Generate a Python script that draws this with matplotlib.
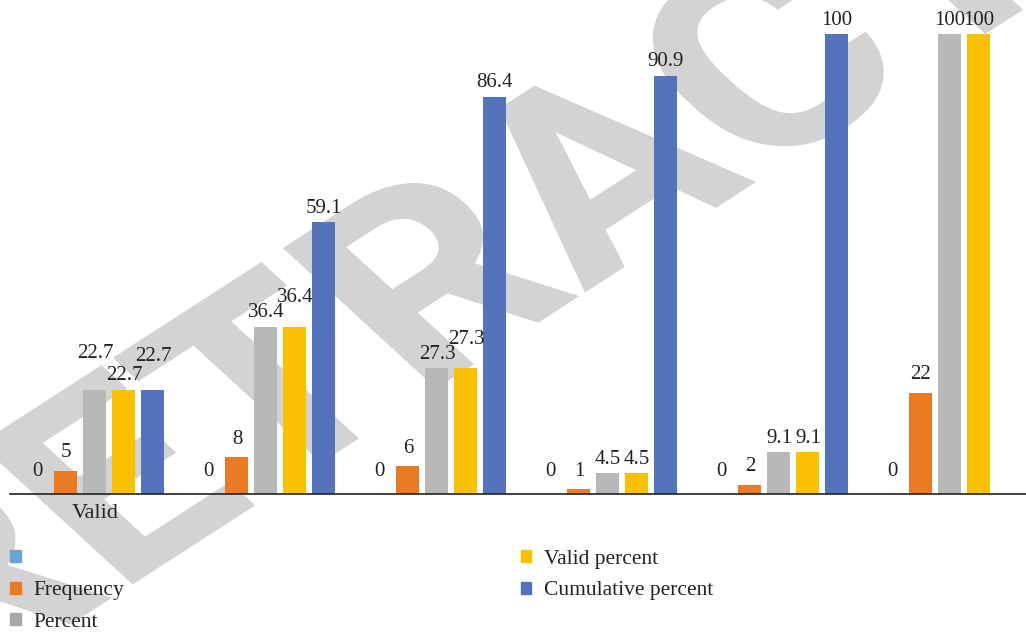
import numpy as np
import matplotlib.pyplot as plt
from matplotlib.patches import Patch, PathPatch
from matplotlib.textpath import TextPath
from matplotlib.font_manager import FontProperties
from matplotlib.transforms import Affine2D

# datos del gráfico
categorias = ["Valid", "", "", "", "", ""]
series = ["", "Frequency", "Percent", "Valid percent", "Cumulative percent"]
serie_0 = [0, 0, 0, 0, 0, 0]
frecuencia = [5, 8, 6, 1, 2, 22]
porcentaje = [22.7, 36.4, 27.3, 4.5, 9.1, 100]
porcentaje_valido = [22.7, 36.4, 27.3, 4.5, 9.1, 100]
porcentaje_acum = [22.7, 59.1, 86.4, 90.9, 100, np.nan]
valores = [serie_0, frecuencia, porcentaje, porcentaje_valido, porcentaje_acum]

colores = ["#6AA3D8", "#EB7A25", "#B8B8B8", "#F9C100", "#5373BA"]
# separación de cada etiqueta sobre su barra (pt) y ajustes para evitar solapes
sep = [16, 13, 10, 10, 10]
ajuste = {(0, 2): 16, (0, 4): 14, (1, 3): 11, (2, 3): 11}

plt.rcParams['font.family'] = ['Liberation Serif', 'DejaVu Serif']
plt.rcParams['font.size'] = 15

fig = plt.figure(figsize=(10.26, 6.34), dpi=100)
ax = fig.add_axes([10/1026, 140/634, 1016/1026, 494/634])
ax.set_facecolor('none')

# marca de agua "RETRACTED" (girada y estirada en x), en píxeles
tp = TextPath((0, 0), "RETRACTED", size=1,
              prop=FontProperties(family='Roboto', weight='bold'))
ext = tp.get_extents()
marca = (Affine2D().translate(-(ext.x0 + ext.x1)/2, -(ext.y0 + ext.y1)/2)
         .scale(258).rotate_deg(40).scale(1.3, 1).translate(600, 634 - 163))
fig.add_artist(PathPatch(tp, transform=marca, facecolor='#D3D3D3',
                         edgecolor='none', zorder=-1))

x = np.arange(len(categorias))
paso = 29/171
ancho = 23/171
for k, (vals, c) in enumerate(zip(valores, colores)):
    pos = x + (k - 2) * paso
    ax.bar(pos, vals, width=ancho, color=c, zorder=2)
    for i, (p, v) in enumerate(zip(pos, vals)):
        if np.isnan(v):
            continue
        dy = sep[k] + ajuste.get((i, k), 0)
        ax.annotate(f"{v:g}", (p, v), xytext=(0, dy), textcoords='offset points',
                    ha='center', va='center', fontsize=15, color='#222222')

ax.set_xlim(-0.497, -0.497 + 1016/171)
ax.set_ylim(0, 494/4.6)
ax.set_xticks(x)
ax.set_xticklabels(categorias)
ax.tick_params(axis='x', length=0, pad=7, labelsize=16, labelcolor='#222222')
ax.set_yticks([])
for s in ['top', 'right', 'left']:
    ax.spines[s].set_visible(False)
ax.spines['bottom'].set_linewidth(1.2)
ax.spines['bottom'].set_color('#222222')

manijas = [Patch(color=c) for c in colores]
manijas[2] = Patch(color='#A9A8A6')
fig.legend(manijas, series, loc='upper left', bbox_to_anchor=(10/1026, 1 - 550/634),
           ncol=2, frameon=False, fontsize=15.5, handlelength=0.5, handleheight=0.5,
           handletextpad=0.6, labelspacing=0.58, columnspacing=18.4,
           borderpad=0, borderaxespad=0, labelcolor='#222222')

plt.savefig("out.png", dpi=100)
